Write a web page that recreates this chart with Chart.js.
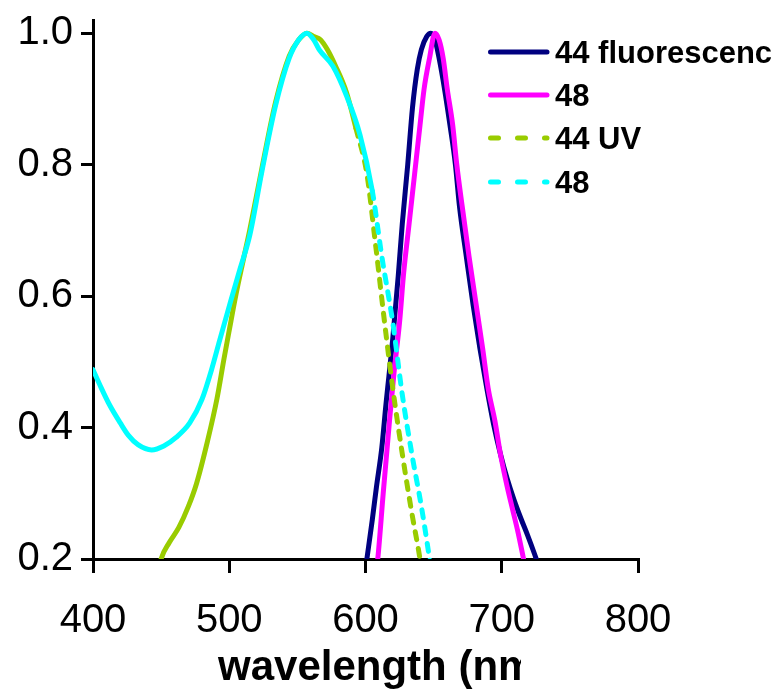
<!DOCTYPE html>
<html>
<head>
<meta charset="utf-8">
<script src="https://cdn.jsdelivr.net/npm/chart.js@4.4.0/dist/chart.umd.min.js"></script>
<style>
  html, body { margin: 0; padding: 0; background: #ffffff; }
  #wrap { width: 781px; height: 692px; }
</style>
</head>
<body>
<div id="wrap"><canvas id="spectra" width="781" height="692"></canvas></div>
<script>
// 44 fluorescence
var fl44Wavelength = [599, 601, 605, 608, 612, 615, 620, 624, 627, 631, 634.5, 638, 641, 645, 648, 651, 654, 658, 662, 666, 669, 674, 679, 684, 689, 694, 699, 704, 709, 714, 719, 724, 727];
var fl44Values = [0.17, 0.2, 0.26, 0.309, 0.37, 0.435, 0.535, 0.63, 0.71, 0.8, 0.887, 0.945, 0.975, 0.995, 1.0, 0.99, 0.962, 0.915, 0.86, 0.8, 0.736, 0.66, 0.586, 0.52, 0.46, 0.405, 0.36, 0.322, 0.29, 0.262, 0.236, 0.208, 0.19];

// 48 fluorescence
var fl48Wavelength = [607, 609, 613, 617.6, 621, 625, 628, 632, 636, 640, 643, 647, 651, 654, 657, 660, 664, 667, 671, 676, 681, 686, 690, 695, 699, 704, 708, 712, 716, 718];
var fl48Values = [0.17, 0.2, 0.3, 0.41, 0.485, 0.56, 0.635, 0.71, 0.785, 0.86, 0.915, 0.962, 1.0, 0.99, 0.962, 0.915, 0.86, 0.8, 0.736, 0.66, 0.59, 0.52, 0.46, 0.41, 0.36, 0.31, 0.275, 0.24, 0.2, 0.18];

// 44 UV
var uv44Wavelength = [447, 450, 456, 463, 470, 476, 484, 491, 496, 500, 505, 510, 515, 524, 534, 544, 551, 557, 562, 567, 572, 578, 586, 593, 601, 607, 614, 620, 627, 634, 640, 642];
var uv44Values = [0.17, 0.2, 0.225, 0.248, 0.28, 0.315, 0.379, 0.444, 0.503, 0.548, 0.603, 0.652, 0.7, 0.795, 0.895, 0.965, 0.99, 1.0, 0.995, 0.99, 0.975, 0.95, 0.91, 0.855, 0.786, 0.685, 0.56, 0.46, 0.36, 0.27, 0.2, 0.17];

// 48 UV
var uv48Wavelength = [400, 405, 412, 420, 426, 433, 443, 452, 461, 471, 480, 487, 493, 501, 508, 515, 524, 534, 544, 551, 557, 562, 566, 576, 586, 596, 605, 612, 620, 627, 634, 641, 647, 649];
var uv48Values = [0.488, 0.465, 0.435, 0.407, 0.388, 0.374, 0.366, 0.372, 0.385, 0.407, 0.443, 0.488, 0.533, 0.592, 0.642, 0.692, 0.79, 0.89, 0.962, 0.99, 1.0, 0.99, 0.975, 0.95, 0.905, 0.845, 0.76, 0.66, 0.56, 0.45, 0.36, 0.28, 0.2, 0.17];

var seriesNames = ['44 fluorescence', '48', '44 UV', '48'];
var seriesColors = ['#000080', '#FF00FF', '#99CC00', '#00FFFF'];
var xTicks = [400, 500, 600, 700, 800];
var yTicks = [0.2, 0.4, 0.6, 0.8, 1.0];
var xTitle = 'wavelength (nm)';

var fontFam = '"Liberation Sans", Arial, sans-serif';

function toPoints(xs, ys) {
    return xs.map(function (x, i) { return { x: x, y: ys[i] }; });
}

// Excel dashes only show up on the falling side (sparser points)
function dashAfter(limit) {
    return function (ctx) {
        return ctx.p0.parsed.x >= limit ? [8, 9] : undefined;
    };
}

function makeLine(i, xs, ys, dashed, order) {
    var ds = {
        label: seriesNames[i],
        data: toPoints(xs, ys),
        borderColor: seriesColors[i],
        backgroundColor: seriesColors[i],
        borderWidth: 5,
        pointRadius: 0,
        tension: 0.4,
        cubicInterpolationMode: 'monotone',
        borderCapStyle: 'round',
        borderJoinStyle: 'round',
        fill: false,
        order: order
    };
    if (dashed) {
        ds.segment = { borderDash: dashAfter(dashed) };
    }
    return ds;
}

// legend + clipped axis title drawn by hand (they're cut off in the original)
var extrasPlugin = {
    id: 'extras',
    afterDraw: function (chart) {
        var ctx = chart.ctx;
        var rows = [52, 95, 138, 182];
        ctx.save();
        ctx.beginPath();
        ctx.rect(0, 0, 773, 692);
        ctx.clip();
        for (var i = 0; i < 4; i++) {
            ctx.strokeStyle = seriesColors[i];
            ctx.lineWidth = 5;
            ctx.lineCap = 'round';
            ctx.setLineDash(i >= 2 ? [8, 19] : []);
            ctx.beginPath();
            ctx.moveTo(490.5, rows[i]);
            ctx.lineTo(547, rows[i]);
            ctx.stroke();
            ctx.setLineDash([]);
            ctx.fillStyle = '#000';
            ctx.font = 'bold 31px ' + fontFam;
            ctx.textBaseline = 'middle';
            ctx.textAlign = 'left';
            ctx.fillText(seriesNames[i], 555, rows[i] + 2);
        }
        ctx.restore();

        ctx.save();
        ctx.beginPath();
        ctx.rect(0, 600, 521, 92);
        ctx.clip();
        ctx.fillStyle = '#000';
        ctx.font = 'bold 42px ' + fontFam;
        ctx.textBaseline = 'alphabetic';
        ctx.textAlign = 'left';
        ctx.fillText(xTitle, 218, 680);
        ctx.restore();
    }
};

var ctx = document.getElementById('spectra').getContext('2d');

var spectraChart = new Chart(ctx, {
    type: 'line',
    data: {
        datasets: [
            makeLine(0, fl44Wavelength, fl44Values, 0, 3),
            makeLine(1, fl48Wavelength, fl48Values, 0, 2),
            makeLine(2, uv44Wavelength, uv44Values, 588, 1),
            makeLine(3, uv48Wavelength, uv48Values, 598, 0)
        ]
    },
    options: {
        responsive: false,
        animation: false,
        layout: { padding: { left: 0, right: 143, top: 15, bottom: 0 } },
        plugins: {
            legend: { display: false },
            tooltip: { enabled: false }
        },
        scales: {
            x: {
                type: 'linear',
                min: 400,
                max: 800,
                afterFit: function (scale) { scale.height = 133; },
                afterBuildTicks: function (scale) {
                    scale.ticks = xTicks.map(function (v) { return { value: v }; });
                },
                border: { display: true, color: '#000', width: 3 },
                grid: { drawOnChartArea: false, drawTicks: true, tickLength: 14, color: '#000', lineWidth: 3 },
                ticks: {
                    color: '#000',
                    font: { family: fontFam, size: 40 },
                    padding: 24,
                    maxRotation: 0
                }
            },
            y: {
                type: 'linear',
                min: 0.2,
                max: 1.02,
                afterFit: function (scale) { scale.width = 93; },
                afterBuildTicks: function (scale) {
                    scale.ticks = yTicks.map(function (v) { return { value: v }; });
                },
                border: { display: true, color: '#000', width: 3 },
                grid: { drawOnChartArea: false, drawTicks: true, tickLength: 12, color: '#000', lineWidth: 3 },
                ticks: {
                    color: '#000',
                    font: { family: fontFam, size: 40, lineHeight: 0.6 },
                    padding: 8,
                    callback: function (v) { return v.toFixed(1); }
                }
            }
        }
    },
    plugins: [extrasPlugin]
});
</script>
</body>
</html>
